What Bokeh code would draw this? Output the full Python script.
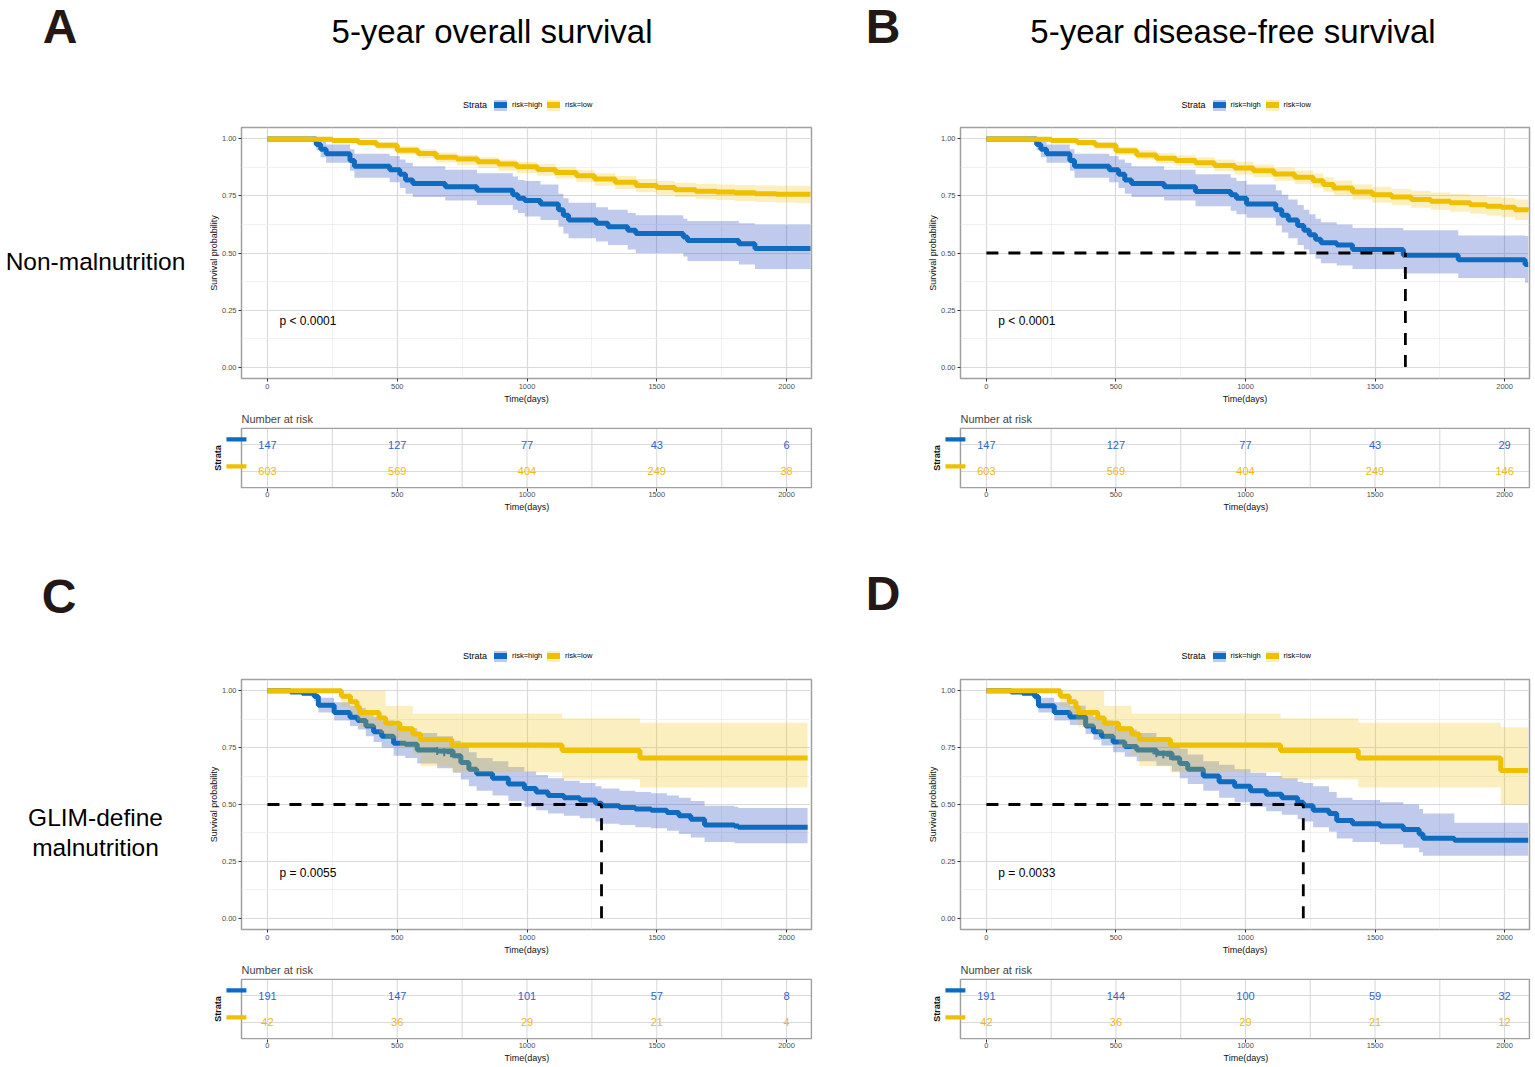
from bokeh.plotting import figure
from bokeh.layouts import row, column
from bokeh.models import Range1d, FixedTicker, PrintfTickFormatter, Div, Title
from bokeh.core.properties import value
from bokeh.embed import file_html
from bokeh.resources import INLINE

FONT = "Liberation Sans"
BLUE = "#0F6BBF"
YELLOW = "#EFC000"
BLUE_BAND = "#2E4FC4"
YELLOW_BAND = "#EFC000"
BLUE_KEY_BG = "#C1CAED"
YELLOW_KEY_BG = "#FBEFBF"
BLUE_TXT = "#2E64C8"
YELLOW_TXT = "#EDB917"
FRAME_COL = "#A0A0A0"
GRID_COL = "#DADADA"
MINOR_COL = "#EDEDED"

# ---------------- data ----------------
X_TICKS = [0, 500, 1000, 1500, 2000]
X_MINOR = [250, 750, 1250, 1750]
Y_TICKS = [0, 0.25, 0.5, 0.75, 1.0]
Y_MINOR = [0.125, 0.375, 0.625, 0.875]
STRATA = ["risk=high", "risk=low"]
X_LABEL = "Time(days)"

# Panel A : non-malnutrition, overall survival
A_HIGH_T = [0, 188, 205, 226, 318, 335, 471, 510, 532, 560, 685, 807, 945, 965, 991, 1052, 1121, 1140, 1160, 1266, 1312, 1388, 1419, 1602, 1618, 1816, 1878, 2092]
A_HIGH_S = [1.0, .975, .955, .935, .905, .88, .865, .845, .82, .805, .79, .775, .755, .74, .73, .715, .69, .665, .645, .63, .615, .60, .585, .57, .555, .54, .52, .52]
A_HIGH_UP = [1.0, 1.0, .99, .975, .955, .935, .925, .91, .895, .88, .865, .85, .835, .82, .815, .80, .76, .74, .72, .70, .69, .675, .665, .65, .64, .63, .625, .625]
A_HIGH_LO = [1.0, .95, .92, .895, .86, .83, .81, .785, .76, .745, .73, .71, .69, .675, .66, .645, .615, .585, .565, .55, .535, .515, .50, .485, .465, .45, .43, .43]
A_LOW_T = [0, 170, 250, 350, 420, 500, 580, 650, 730, 810, 890, 960, 1040, 1110, 1190, 1260, 1340, 1420, 1500, 1570, 1650, 1730, 1800, 1880, 1960, 2040, 2092]
A_LOW_S = [1.0, .998, .993, .984, .972, .95, .936, .92, .912, .90, .89, .878, .866, .853, .838, .824, .81, .796, .787, .777, .771, .767, .764, .760, .758, .757, .757]
A_LOW_UP = [1.0, 1.0, 1.0, .995, .985, .968, .955, .94, .93, .92, .91, .90, .89, .878, .864, .85, .837, .825, .816, .808, .803, .80, .798, .796, .795, .795, .795]
A_LOW_LO = [1.0, .995, .985, .97, .955, .932, .915, .897, .885, .873, .86, .85, .838, .826, .81, .795, .78, .766, .755, .745, .738, .732, .728, .724, .72, .718, .718]
A_RISK_HIGH = [147, 127, 77, 43, 6]
A_RISK_LOW = [603, 569, 404, 249, 38]
A_PVAL = "p < 0.0001"

# Panel B : non-malnutrition, disease-free survival
B_HIGH_T = [0, 194, 210, 232, 322, 340, 474, 510, 534, 560, 686, 807, 943, 965, 1004, 1117, 1140, 1165, 1201, 1225, 1246, 1270, 1291, 1352, 1413, 1609, 1821, 2079, 2091]
B_HIGH_S = [1, .975, .955, .935, .905, .88, .865, .845, .82, .805, .79, .77, .755, .74, .715, .69, .665, .645, .62, .60, .58, .56, .545, .535, .515, .49, .47, .45, .45]
B_HIGH_UP = [1, 1, .99, .975, .955, .935, .925, .91, .895, .88, .865, .845, .83, .815, .80, .775, .755, .735, .71, .69, .67, .65, .635, .625, .61, .60, .577, .575, .575]
B_HIGH_LO = [1, .95, .92, .895, .86, .83, .81, .785, .76, .745, .73, .705, .685, .67, .655, .62, .59, .565, .535, .515, .495, .475, .455, .445, .43, .41, .39, .37, .37]
B_LOW_T = [0, 170, 250, 350, 420, 500, 580, 656, 730, 807, 880, 958, 1030, 1110, 1190, 1261, 1300, 1340, 1413, 1490, 1564, 1640, 1715, 1790, 1867, 1930, 1988, 2040, 2091]
B_LOW_S = [1.0, .998, .993, .984, .972, .948, .93, .915, .905, .896, .884, .872, .86, .846, .832, .817, .80, .785, .767, .755, .745, .735, .727, .72, .712, .705, .70, .69, .685]
B_LOW_UP = [1, 1, 1, .995, .985, .965, .95, .937, .928, .92, .91, .90, .888, .875, .862, .848, .832, .818, .80, .79, .781, .772, .765, .759, .752, .746, .742, .735, .73]
B_LOW_LO = [1, .995, .985, .97, .955, .93, .91, .893, .882, .872, .858, .844, .832, .817, .802, .786, .768, .752, .734, .72, .709, .698, .689, .681, .672, .664, .658, .645, .64]
B_RISK_HIGH = [147, 127, 77, 43, 29]
B_RISK_LOW = [603, 569, 404, 249, 146]
B_PVAL = "p < 0.0001"
B_MEDIAN = 1617

# Panel C : GLIM-defined malnutrition, overall survival
C_HIGH_T = [0, 89, 134, 180, 196, 257, 318, 348, 379, 409, 440, 486, 531, 577, 654, 715, 745, 776, 806, 867, 928, 990, 1035, 1081, 1142, 1203, 1264, 1287, 1356, 1417, 1478, 1539, 1585, 1631, 1684, 1799, 1814, 2081]
C_HIGH_S = [1, .995, .99, .975, .937, .905, .884, .87, .845, .82, .80, .77, .765, .74, .735, .715, .685, .655, .635, .615, .59, .57, .555, .54, .53, .52, .505, .495, .487, .48, .475, .465, .45, .435, .41, .405, .40, .40]
C_HIGH_UP = [1, 1, 1, 1, .97, .95, .935, .925, .905, .885, .87, .845, .835, .815, .80, .78, .755, .73, .705, .69, .665, .645, .63, .615, .605, .595, .58, .57, .56, .555, .55, .54, .53, .515, .495, .49, .485, .485]
C_HIGH_LO = [1, .99, .98, .955, .905, .87, .845, .83, .80, .775, .75, .715, .705, .68, .66, .64, .61, .58, .56, .54, .515, .49, .475, .46, .45, .44, .425, .415, .41, .40, .395, .385, .37, .355, .335, .33, .33, .33]
C_HIGH_CENS_T = [654, 681, 707]
C_HIGH_CENS_S = [.735, .73, .725]
C_LOW_T = [0, 285, 320, 345, 355, 430, 455, 510, 560, 590, 710, 1135, 1435, 2081]
C_LOW_S = [1, .976, .952, .929, .905, .881, .857, .833, .81, .786, .762, .738, .705, .705]
C_LOW_UP = [1, 1, 1, 1, 1, 1, .935, .935, .90, .90, .90, .88, .86, .86]
C_LOW_LO = [1, .93, .90, .87, .84, .815, .79, .75, .72, .668, .642, .61, .575, .575]
C_RISK_HIGH = [191, 147, 101, 57, 8]
C_RISK_LOW = [42, 36, 29, 21, 4]
C_PVAL = "p = 0.0055"
C_MEDIAN = 1287

# Panel D : GLIM-defined malnutrition, disease-free survival
D_HIGH_T = [0, 95, 140, 186, 201, 262, 322, 383, 413, 444, 489, 534, 580, 656, 716, 746, 777, 837, 898, 958, 1019, 1080, 1140, 1201, 1223, 1261, 1322, 1352, 1413, 1519, 1609, 1670, 1685, 1806, 2091]
D_HIGH_S = [1, .995, .99, .975, .935, .905, .885, .845, .82, .80, .775, .755, .74, .725, .705, .68, .655, .625, .60, .58, .56, .545, .53, .51, .495, .475, .46, .43, .415, .405, .39, .37, .352, .343, .343]
D_HIGH_UP = [1, 1, 1, 1, .97, .95, .935, .905, .885, .87, .845, .83, .815, .79, .77, .745, .72, .69, .675, .655, .64, .625, .615, .60, .595, .58, .555, .53, .52, .51, .50, .48, .46, .42, .42]
D_HIGH_LO = [1, .99, .98, .955, .905, .87, .85, .81, .785, .76, .73, .71, .69, .67, .645, .615, .59, .56, .53, .51, .49, .47, .455, .435, .425, .40, .38, .35, .335, .325, .31, .29, .275, .275, .275]
D_HIGH_CENS_T = [656, 683, 709]
D_HIGH_CENS_S = [.725, .72, .715]
D_LOW_T = [0, 285, 320, 345, 355, 430, 455, 510, 560, 590, 710, 1135, 1435, 1985, 2091]
D_LOW_S = [1, .976, .952, .929, .905, .881, .857, .833, .81, .786, .762, .738, .705, .65, .65]
D_LOW_UP = [1, 1, 1, 1, 1, 1, .935, .935, .90, .90, .90, .88, .86, .84, .84]
D_LOW_LO = [1, .93, .90, .87, .84, .815, .79, .75, .72, .668, .642, .61, .575, .50, .50]
D_RISK_HIGH = [191, 144, 100, 59, 32]
D_RISK_LOW = [42, 36, 29, 21, 12]
D_PVAL = "p = 0.0033"
D_MEDIAN = 1223

TITLE_A = "5-year overall survival"
TITLE_B = "5-year disease-free survival"
ROW1 = "Non-malnutrition"
ROW2 = ["GLIM-define", "malnutrition"]

X_RANGE = (-100, 2096)          # survival plot x extent (days)
RISK_X_RANGE = (-165.5, 2100)   # risk table frame also holds the strata keys
RISK_BOX_Y = (0.4, 2.6)
P_X, P_Y = 46, 0.2

# ---------------- helpers ----------------

def style_axes(p):
    for ax in p.axis:
        ax.axis_line_color = None
        ax.major_tick_line_color = "#333333"
        ax.major_tick_out = 3
        ax.major_tick_in = 0
        ax.minor_tick_line_color = None
        ax.major_label_text_font = FONT
        ax.major_label_text_font_size = "7.5px"
        ax.major_label_text_color = "#4D4D4D"
        ax.major_label_standoff = 1
        ax.axis_label_text_font = FONT
        ax.axis_label_text_font_size = "9px"
        ax.axis_label_text_font_style = "normal"
        ax.axis_label_text_color = "#111111"
        ax.axis_label_standoff = 2


def new_fig(width, height, mbl, mbr, mbt, mbb, x_range, y_range, title=None):
    p = figure(width=width, height=height, x_range=Range1d(*x_range), y_range=Range1d(*y_range),
               min_border_left=mbl, min_border_right=mbr, min_border_top=mbt, min_border_bottom=mbb,
               toolbar_location=None, output_backend="svg", title=title)
    p.frame_align = False
    p.background_fill_color = "white"
    p.border_fill_color = "white"
    style_axes(p)
    return p


def km_fig(width, height, mbl, mbr, mbt, mbb, high, low, pval, median=None, cens=None):
    p = new_fig(width, height, mbl, mbr, mbt, mbb, X_RANGE, (-0.05, 1.05))
    p.outline_line_color = FRAME_COL
    p.outline_line_width = 1.5
    p.xaxis.axis_label = X_LABEL
    p.xaxis.ticker = FixedTicker(ticks=X_TICKS, minor_ticks=X_MINOR)
    p.yaxis.ticker = FixedTicker(ticks=Y_TICKS, minor_ticks=Y_MINOR)
    p.yaxis.formatter = PrintfTickFormatter(format="%.2f")
    p.yaxis.axis_label = "Survival probability"
    p.yaxis.axis_label_standoff = 0
    for g in p.grid:
        g.grid_line_color = GRID_COL
        g.grid_line_width = 1.2
        g.minor_grid_line_color = MINOR_COL
        g.minor_grid_line_width = 0.8
    ht, hs, hu, hl = high
    lt, ls, lu, ll = low
    p.varea_step(x=ht, y1=hl, y2=hu, step_mode="after", fill_color=BLUE_BAND, fill_alpha=0.3)
    p.step(ht, hs, mode="after", line_color=BLUE, line_width=5)
    if cens is not None:
        p.scatter(cens[0], cens[1], marker="cross", size=8, line_color=BLUE, line_width=2)
    p.varea_step(x=lt, y1=ll, y2=lu, step_mode="after", fill_color=YELLOW_BAND, fill_alpha=0.25)
    p.step(lt, ls, mode="after", line_color=YELLOW, line_width=5)
    if median is not None:
        p.line([0, median], [0.5, 0.5], line_color="black", line_width=2.8, line_dash="12 10")
        p.line([median, median], [0, 0.5], line_color="black", line_width=2.8, line_dash="12 10")
    p.text(x=[P_X], y=[P_Y], text=[pval], text_font=value(FONT), text_font_size="12px",
           text_align="left", text_baseline="middle", text_color="black")
    return p


def risk_fig(width, height, mbl, mbr, mbt, mbb, n_high, n_low, title_offset, xlabel_offset):
    p = new_fig(width, height, mbl, mbr, mbt, mbb, RISK_X_RANGE, (0.37, 2.63), title="Number at risk")
    p.outline_line_color = None
    p.grid.visible = False
    p.title.text_font = FONT
    p.title.text_font_size = "11px"
    p.title.text_font_style = "normal"
    p.title.align = "left"
    p.title.offset = title_offset
    p.title.standoff = 5
    p.xaxis.ticker = FixedTicker(ticks=X_TICKS)
    p.xaxis.major_label_standoff = 0
    # x axis title centred under the table box (the frame is wider on the left)
    p.add_layout(Title(text=X_LABEL, align="left", offset=xlabel_offset, text_font=FONT,
                       text_font_size="9px", text_font_style="normal", text_color="#111111",
                       standoff=0), "below")
    p.yaxis.ticker = FixedTicker(ticks=[])
    p.yaxis.major_tick_line_color = None
    p.yaxis.axis_label = "Strata"
    p.yaxis.axis_label_text_font_style = "bold"
    p.yaxis.axis_label_standoff = 2
    y0, y1 = RISK_BOX_Y
    x0, x1 = X_RANGE
    vx = X_TICKS + X_MINOR
    p.segment(x0=vx, y0=[y0] * len(vx), x1=vx, y1=[y1] * len(vx), line_color=GRID_COL, line_width=1.1)
    p.segment(x0=[x0, x0], y0=[1, 2], x1=[x1, x1], y1=[1, 2], line_color=GRID_COL, line_width=1.1)
    p.quad(left=[x0], right=[x1], bottom=[y0], top=[y1], fill_color=None,
           line_color=FRAME_COL, line_width=1.5)
    p.text(x=X_TICKS, y=[2] * 5, text=[str(v) for v in n_high], text_font=value(FONT),
           text_font_size="11px", text_align="center", text_baseline="middle", text_color=BLUE_TXT)
    p.text(x=X_TICKS, y=[1] * 5, text=[str(v) for v in n_low], text_font=value(FONT),
           text_font_size="11px", text_align="center", text_baseline="middle", text_color=YELLOW_TXT)
    # strata keys on the y axis (one per row, slightly above the row line)
    p.quad(left=[-158, -158], right=[-81, -81], bottom=[2.115, 1.115], top=[2.265, 1.265],
           fill_color=[BLUE, YELLOW], line_color=None)
    return p


def blank_fig(width, height):
    p = figure(width=width, height=height, x_range=Range1d(0, width), y_range=Range1d(height, 0),
               x_axis_location=None, y_axis_location=None, toolbar_location=None,
               output_backend="svg", min_border=0)
    p.frame_align = False
    p.grid.visible = False
    p.outline_line_color = None
    p.background_fill_color = "white"
    p.border_fill_color = "white"
    return p


def html_text(x, baseline, txt, size, center=False, weight="normal", color="black", lh=1.0):
    top = baseline - ((lh - 1.117) / 2 + 0.905) * size
    tf = "transform:translateX(-50%);" if center else ""
    return (f'<div style="position:absolute;left:{x}px;top:{top:.1f}px;font-size:{size}px;'
            f'line-height:{lh * size:.1f}px;font-weight:{weight};color:{color};white-space:nowrap;{tf}">{txt}</div>')


def html_box(x0, yc, w, h, color):
    return (f'<div style="position:absolute;left:{x0}px;top:{yc - h / 2:.1f}px;width:{w}px;'
            f'height:{h}px;background:{color};"></div>')


def legend_html(cx, cy):
    parts = [html_text(cx - 63, cy + 3.3, "Strata", 9),
             html_box(cx - 32, cy, 13, 11, BLUE_KEY_BG), html_box(cx - 32, cy, 13, 6, BLUE),
             html_text(cx - 14, cy + 2.7, STRATA[0], 7.5),
             html_box(cx + 21, cy, 13, 11, YELLOW_KEY_BG), html_box(cx + 21, cy, 13, 6, YELLOW),
             html_text(cx + 39, cy + 2.7, STRATA[1], 7.5)]
    return "".join(parts)


def header_div(width, height, inner):
    html = (f'<div style="position:relative;width:{width}px;height:{height}px;'
            f'font-family:\'{FONT}\',Arial,sans-serif;background:white;">{inner}</div>')
    return Div(text=html, width=width, height=height, margin=(0, 0, 0, 0))


# ---------------- layout ----------------
LEFT_W = 200
COLA_W = 640
COLB_W = 693
H_HEAD1, H_KM1, H_RISK1 = 114, 292, 106
H_HEAD2, H_KM2, H_RISK2 = 154, 291, 108
TOTAL_H = H_HEAD1 + H_KM1 + H_RISK1 + H_HEAD2 + H_KM2 + H_RISK2

A_MBL, A_MBR = 41, 29
B_MBL, B_MBR = 120, 4
A_RISK_MBL, A_RISK_MBR = 24, 28
B_RISK_MBL, B_RISK_MBR = 103, 3
A_CX = A_MBL + (COLA_W - A_MBL - A_MBR) / 2
B_CX = B_MBL + (COLB_W - B_MBL - B_MBR) / 2
LETTER_PX = 48
XLAB_OFF = 280

# left column
left = blank_fig(LEFT_W, TOTAL_H)
left.text(x=[59.5, 58.5], y=[26, 596], text=["A", "C"], text_font=value(FONT),
          text_font_size=f"{LETTER_PX}px", text_font_style="bold", text_align="center",
          text_baseline="middle", text_color="#231815")
left.text(x=[95], y=[260.5], text=[ROW1], text_font=value(FONT), text_font_size="24.5px",
          text_align="center", text_baseline="middle", text_color="black")
left.text(x=[95, 95], y=[816.5, 846.5], text=ROW2, text_font=value(FONT), text_font_size="24.5px",
          text_align="center", text_baseline="middle", text_color="black")

# column A / C
headA = header_div(COLA_W, H_HEAD1, html_text(292, 43, TITLE_A, 33, center=True) + legend_html(A_CX, 105))
kmA = km_fig(COLA_W, H_KM1, A_MBL, A_MBR, 13, 26,
             (A_HIGH_T, A_HIGH_S, A_HIGH_UP, A_HIGH_LO), (A_LOW_T, A_LOW_S, A_LOW_UP, A_LOW_LO), A_PVAL)
riskA = risk_fig(COLA_W, H_RISK1, A_RISK_MBL, A_RISK_MBR, 21, 24, A_RISK_HIGH, A_RISK_LOW, 17, XLAB_OFF)

headC = header_div(COLA_W, H_HEAD2, legend_html(A_CX, 144))
kmC = km_fig(COLA_W, H_KM2, A_MBL, A_MBR, 13, 26,
             (C_HIGH_T, C_HIGH_S, C_HIGH_UP, C_HIGH_LO), (C_LOW_T, C_LOW_S, C_LOW_UP, C_LOW_LO), C_PVAL,
             median=C_MEDIAN, cens=(C_HIGH_CENS_T, C_HIGH_CENS_S))
riskC = risk_fig(COLA_W, H_RISK2, A_RISK_MBL, A_RISK_MBR, 21, 26, C_RISK_HIGH, C_RISK_LOW, 17, XLAB_OFF)

# column B / D
headB = header_div(COLB_W, H_HEAD1,
                   html_text(43, 44, "B", LETTER_PX, center=True, weight="bold", color="#231815", lh=0.75)
                   + html_text(393, 43, TITLE_B, 33, center=True) + legend_html(B_CX, 105))
kmB = km_fig(COLB_W, H_KM1, B_MBL, B_MBR, 13, 26,
             (B_HIGH_T, B_HIGH_S, B_HIGH_UP, B_HIGH_LO), (B_LOW_T, B_LOW_S, B_LOW_UP, B_LOW_LO), B_PVAL,
             median=B_MEDIAN)
riskB = risk_fig(COLB_W, H_RISK1, B_RISK_MBL, B_RISK_MBR, 21, 24, B_RISK_HIGH, B_RISK_LOW, 17, XLAB_OFF)

headD = header_div(COLB_W, H_HEAD2,
                   html_text(43, 99, "D", LETTER_PX, center=True, weight="bold", color="#231815", lh=0.75)
                   + legend_html(B_CX, 144))
kmD = km_fig(COLB_W, H_KM2, B_MBL, B_MBR, 13, 26,
             (D_HIGH_T, D_HIGH_S, D_HIGH_UP, D_HIGH_LO), (D_LOW_T, D_LOW_S, D_LOW_UP, D_LOW_LO), D_PVAL,
             median=D_MEDIAN, cens=(D_HIGH_CENS_T, D_HIGH_CENS_S))
riskD = risk_fig(COLB_W, H_RISK2, B_RISK_MBL, B_RISK_MBR, 21, 26, D_RISK_HIGH, D_RISK_LOW, 17, XLAB_OFF)

colA = column(headA, kmA, riskA, headC, kmC, riskC, spacing=0)
colB = column(headB, kmB, riskB, headD, kmD, riskD, spacing=0)
layout = row(left, colA, colB, spacing=0)

open("out.html", "w").write(file_html(layout, INLINE))
